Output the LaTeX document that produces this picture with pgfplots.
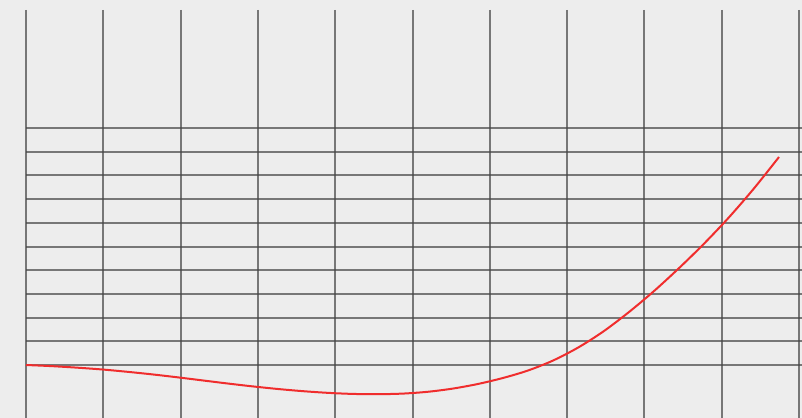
\documentclass[border=0pt]{standalone}
\usepackage{pgfplots}
\pgfplotsset{compat=1.18}
\definecolor{bg}{RGB}{237,237,237}
\definecolor{gridc}{RGB}{70,70,70}
\definecolor{curve}{RGB}{240,45,45}
\begin{document}
\begin{tikzpicture}
\begin{axis}[
  scale only axis, width=802bp, height=418bp,
  xmin=0, xmax=802, ymin=0, ymax=418, y dir=reverse,
  hide axis, clip=true, unbounded coords=jump,
]
\addplot[fill=bg, draw=none] coordinates {(0,0) (802,0) (802,418) (0,418)} -- cycle;
% vertical grid lines
\addplot[gridc, line width=2bp, opacity=0.7] coordinates {
(26,10) (26,418) (26,nan)
(103.3,10) (103.3,418) (103.3,nan)
(180.6,10) (180.6,418) (180.6,nan)
(257.9,10) (257.9,418) (257.9,nan)
(335.2,10) (335.2,418) (335.2,nan)
(412.5,10) (412.5,418) (412.5,nan)
(489.8,10) (489.8,418) (489.8,nan)
(567.1,10) (567.1,418) (567.1,nan)
(644.4,10) (644.4,418) (644.4,nan)
(721.7,10) (721.7,418) (721.7,nan)
(799,10) (799,418)
};
% horizontal grid lines
\addplot[gridc, line width=2bp, opacity=0.7] coordinates {
(26,128) (802,128) (nan,128)
(26,151.7) (802,151.7) (nan,151.7)
(26,175.4) (802,175.4) (nan,175.4)
(26,199.1) (802,199.1) (nan,199.1)
(26,222.8) (802,222.8) (nan,222.8)
(26,246.5) (802,246.5) (nan,246.5)
(26,270.2) (802,270.2) (nan,270.2)
(26,293.9) (802,293.9) (nan,293.9)
(26,317.6) (802,317.6) (nan,317.6)
(26,341.3) (802,341.3) (nan,341.3)
(26,365) (802,365)
};
% red curve
\addplot[curve, line width=2bp, smooth] coordinates {
(26,365) (51.1,366.1) (76.2,367.6) (101.3,369.4) (126.4,371.7) (151.5,374.3)
(176.6,377.2) (201.7,380.3) (226.8,383.4) (251.9,386.3) (277.0,388.9)
(302.1,391.1) (327.2,392.8) (352.3,393.9) (377.4,394.2) (402.5,393.6)
(427.6,391.8) (452.7,388.6) (477.8,384.0) (502.9,378.0) (528.0,370.5)
(553.1,360.5) (578.2,347.5) (603.3,331.5) (628.4,312.5) (653.5,291.5)
(678.6,268.5) (703.7,244) (728.8,217.5) (753.9,188.5) (779,157)
};
\end{axis}
\end{tikzpicture}
\end{document}
